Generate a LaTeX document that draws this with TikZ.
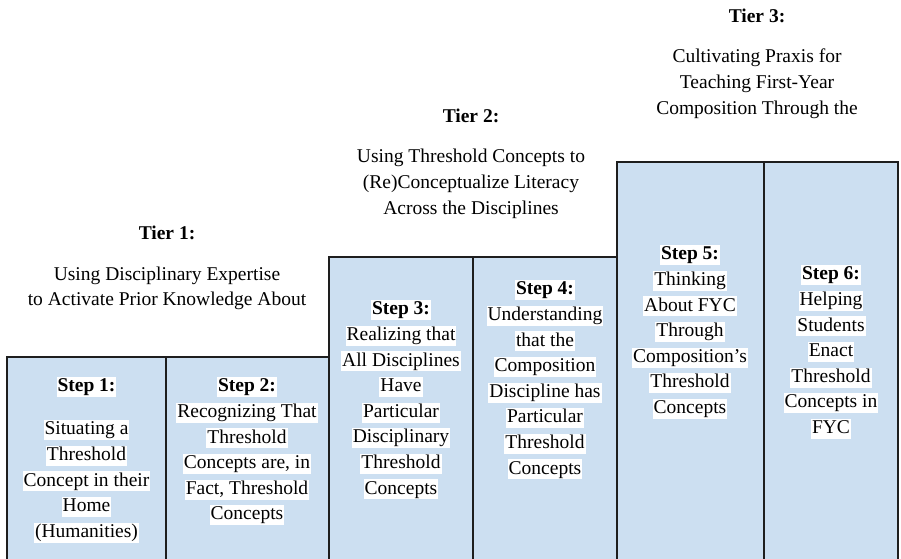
\documentclass[tikz,border=0pt]{standalone}
\usepackage{fontspec}
\setmainfont{LiberationSerif}[Extension=.ttf, UprightFont=*-Regular, BoldFont=*-Bold, ItalicFont=*-Italic, BoldItalicFont=*-BoldItalic]
\definecolor{boxblue}{RGB}{204,223,241}
\definecolor{edgegray}{RGB}{30,30,30}
\newcommand\hlstrut{\rule[-0.22em]{0pt}{0.92em}}
\newcommand\hl[1]{{\setlength{\fboxsep}{1pt}\colorbox{white}{\hlstrut #1}}}
\begin{document}
\begin{tikzpicture}[x=1pt,y=-1pt,
  stepbox/.style={fill=boxblue, draw=none, inner sep=0pt, outer sep=0pt},
  edgeline/.style={draw=edgegray, line width=1.3pt},
  steptext/.style={anchor=north, align=center, inner sep=0pt, font=\fontsize{19.5}{25.6}\selectfont},
  tierhead/.style={anchor=center, inner sep=0pt, font=\bfseries\fontsize{19.5}{25.6}\selectfont},
  tierdesc/.style={anchor=north, align=center, inner sep=0pt, font=\fontsize{19.5}{26}\selectfont}]
\useasboundingbox (0,0) rectangle (901,558);

% boxes
\node[stepbox, minimum width=159pt, minimum height=203pt] (b1) at (86.5,458.5) {};
\node[stepbox, minimum width=163pt, minimum height=203pt] (b2) at (247.5,458.5) {};
\node[stepbox, minimum width=144pt, minimum height=303pt] (b3) at (401,408.5) {};
\node[stepbox, minimum width=144pt, minimum height=303pt] (b4) at (545,408.5) {};
\node[stepbox, minimum width=147pt, minimum height=398pt] (b5) at (690.5,361) {};
\node[stepbox, minimum width=134pt, minimum height=398pt] (b6) at (831,361) {};

\foreach \b in {b1,b2,b3,b4,b5,b6}
  \draw[edgeline] (\b.south west) -- (\b.north west) -- (\b.north east) -- (\b.south east);

% step texts
\node[steptext] (s1) at (86.5,377) {\hl{\bfseries Step 1:}\\[17.4pt]
  \hl{Situating a}\\ \hl{Threshold}\\ \hl{Concept in their}\\ \hl{Home}\\ \hl{(Humanities)}};
\node[steptext] (s2) at (247,377) {\hl{\bfseries Step 2:}\\
  \hl{Recognizing That}\\ \hl{Threshold}\\ \hl{Concepts are, in}\\ \hl{Fact, Threshold}\\ \hl{Concepts}};
\node[steptext] (s3) at (401,300) {\hl{\bfseries Step 3:}\\
  \hl{Realizing that}\\ \hl{All Disciplines}\\ \hl{Have}\\ \hl{Particular}\\ \hl{Disciplinary}\\ \hl{Threshold}\\ \hl{Concepts}};
\node[steptext] (s4) at (545,280) {\hl{\bfseries Step 4:}\\
  \hl{Understanding}\\ \hl{that the}\\ \hl{Composition}\\ \hl{Discipline has}\\ \hl{Particular}\\ \hl{Threshold}\\ \hl{Concepts}};
\node[steptext] (s5) at (690,245) {\hl{\bfseries Step 5:}\\
  \hl{Thinking}\\ \hl{About FYC}\\ \hl{Through}\\ \hl{Composition’s}\\ \hl{Threshold}\\ \hl{Concepts}};
\node[steptext] (s6) at (831,265) {\hl{\bfseries Step 6:}\\
  \hl{Helping}\\ \hl{Students}\\ \hl{Enact}\\ \hl{Threshold}\\ \hl{Concepts in}\\ \hl{FYC}};

% tiers
\node[tierhead] (t3) at (757,16) {Tier 3:};
\node[tierdesc] (d3) at (757,48.3) {\hlstrut Cultivating Praxis for\\ \hlstrut Teaching First-Year\\ \hlstrut Composition Through the};
\node[tierhead] (t2) at (471,116) {Tier 2:};
\node[tierdesc] (d2) at (471,148.3) {\hlstrut Using Threshold Concepts to\\ \hlstrut (Re)Conceptualize Literacy\\ \hlstrut Across the Disciplines};
\node[tierhead] (t1) at (167,233) {Tier 1:};
\node[tierdesc, font=\fontsize{19.5}{25}\selectfont] (d1) at (167,266.3) {\hlstrut Using Disciplinary Expertise\\ \hlstrut to Activate Prior Knowledge About};
\end{tikzpicture}
\end{document}
